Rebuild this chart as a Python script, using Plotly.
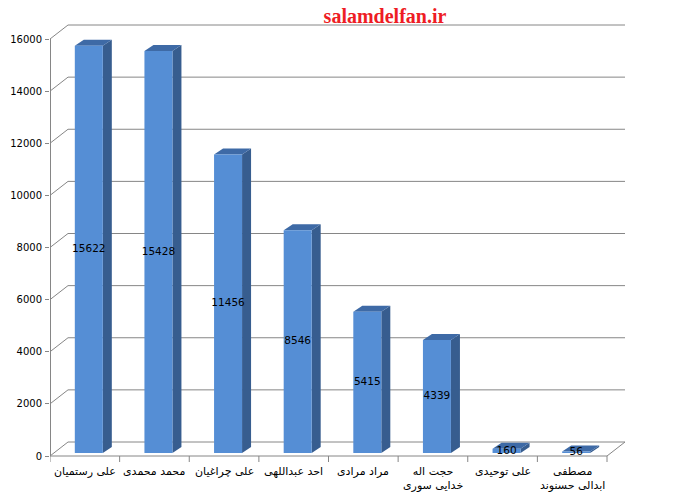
import plotly.graph_objects as go

# ---------------- data ----------------
categories = [
    "علی رستمیان",
    "محمد محمدی",
    "علی چراغیان",
    "احد عبداللهی",
    "مراد مرادی",
    "حجت اله<br>خدایی سوری",
    "علی توحیدی",
    "مصطفی<br>ابدالی حسنوند",
]
values = [15622, 15428, 11456, 8546, 5415, 4339, 160, 56]
y_ticks = [0, 2000, 4000, 6000, 8000, 10000, 12000, 14000, 16000]
title_text = "salamdelfan.ir"

# ---------------- geometry (pixel based pseudo-3D) ----------------
PAGE = 8                                  # default body margin of the html page
W, H = 695 - PAGE, 498 - PAGE
L, R, T, B = 50 - PAGE, 627 - PAGE, 24 - PAGE, 465 - PAGE   # plot area in px (figure coords)
ZERO_PX = 456 - PAGE                      # front floor y pixel
n = len(categories)
PX_X = (607 - 50) / n                     # px per category
PX_Y = (456 - 39) / 16000                 # px per value unit

def dx(p):
    return p / PX_X

def dy(p):
    return p / PX_Y

x_range = [-0.5, -0.5 + dx(R - L)]
y_range = [-dy(B - ZERO_PX), dy(ZERO_PX - T)]

WALL_DX, WALL_DY = 18, 14
grid_col = "#868686"

gx, gy = [], []
for v in y_ticks:
    gx += [-0.5, -0.5 + dx(WALL_DX), n - 0.5 + dx(WALL_DX), None]
    gy += [v, v + dy(WALL_DY), v + dy(WALL_DY), None]
# floor right edge
gx += [n - 0.5, n - 0.5 + dx(WALL_DX), None]
gy += [0, dy(WALL_DY), None]
# front x axis line
gx += [-0.5, n - 0.5, None]
gy += [0, 0, None]
# category boundary ticks
for k in range(n + 1):
    gx += [k - 0.5, k - 0.5, None]
    gy += [0, -dy(6), None]

fig = go.Figure()
fig.add_trace(go.Scatter(x=gx, y=gy, mode="lines",
                         line=dict(color=grid_col, width=1),
                         hoverinfo="skip", showlegend=False))
# y axis line (front)
fig.add_trace(go.Scatter(x=[-0.5, -0.5], y=[0, y_ticks[-1]], mode="lines",
                         line=dict(color=grid_col, width=2),
                         hoverinfo="skip", showlegend=False))

# bars
HALF_W = 14
OFF_X, OFF_Y = 4, 3
DEP_X, DEP_Y = 9, 6
fx, fy, sx, sy, tx, ty = [], [], [], [], [], []
for i, v in enumerate(values):
    xl = i + dx(-HALF_W + OFF_X)
    xr = i + dx(HALF_W + OFF_X)
    yb = dy(OFF_Y)
    yt = v + dy(OFF_Y)
    ddx, ddy = dx(DEP_X), dy(DEP_Y)
    fx += [xl, xr, xr, xl, xl, None]
    fy += [yb, yb, yt, yt, yb, None]
    sx += [xr, xr + ddx, xr + ddx, xr, xr, None]
    sy += [yb, yb + ddy, yt + ddy, yt, yb, None]
    tx += [xl, xr, xr + ddx, xl + ddx, xl, None]
    ty += [yt, yt, yt + ddy, yt + ddy, yt, None]

for xs, ys, col in [(sx, sy, "#375d8f"), (tx, ty, "#3e6aa6"), (fx, fy, "#558ed5")]:
    fig.add_trace(go.Scatter(x=xs, y=ys, mode="lines", fill="toself",
                             fillcolor=col, line=dict(width=0, color=col),
                             hoverinfo="skip", showlegend=False))

# value labels
fig.add_trace(go.Scatter(
    x=[i + dx(OFF_X) for i in range(n)],
    y=[v / 2 + dy(OFF_Y) for v in values],
    mode="text", text=[str(v) for v in values],
    textposition="middle center",
    textfont=dict(family="DejaVu Sans, Verdana, sans-serif", size=10.5, color="black"),
    cliponaxis=False, hoverinfo="skip", showlegend=False))

# category labels
for i, c in enumerate(categories):
    fig.add_annotation(x=i, y=0, xref="x", yref="y", text=c, showarrow=False,
                       yanchor="top", yshift=-7, align="center",
                       font=dict(family="Tahoma, DejaVu Sans, sans-serif", size=11, color="black"))

fig.update_layout(
    width=W, height=H,
    margin=dict(l=L, r=W - R, t=T, b=H - B, autoexpand=False),
    paper_bgcolor="white", plot_bgcolor="white",
    title=dict(text="<b>" + title_text + "</b>", x=(385 - PAGE) / W, xanchor="center",
               y=1 - (16 - PAGE) / H, yanchor="middle", yref="container",
               font=dict(family="Liberation Serif, Times New Roman, serif", size=20, color="#ee1c24")),
    xaxis=dict(range=x_range, showgrid=False, zeroline=False, showline=False,
               showticklabels=False, ticks="", fixedrange=True, automargin=False),
    yaxis=dict(range=y_range, showgrid=False, zeroline=False, showline=False,
               tickvals=y_ticks, ticktext=[str(t) for t in y_ticks],
               ticks="outside", ticklen=4, tickcolor=grid_col, ticklabelstandoff=1,
               tickfont=dict(family="DejaVu Sans, Verdana, sans-serif", size=10, color="black"),
               fixedrange=True, automargin=False),
)

fig.write_html("out.html")
